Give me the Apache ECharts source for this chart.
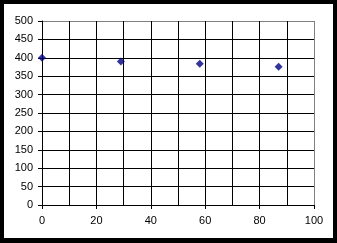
<!DOCTYPE html>
<html>
<head>
<meta charset="utf-8">
<script src="https://cdn.jsdelivr.net/npm/echarts@6/dist/echarts.min.js"></script>
<style>
html,body{margin:0;padding:0;}
#frame{position:absolute;left:0;top:0;width:337px;height:243px;background:#000;}
#chart{position:absolute;left:4px;top:4px;width:329px;height:234px;background:#fff;}
</style>
</head>
<body>
<div id="frame"><div id="chart"></div></div>
<script>
var xValues = [0, 29, 58, 87];
var yValues = [400, 390, 384, 376];
var xTicks = [0, 20, 40, 60, 80, 100];
var yTicks = [0, 50, 100, 150, 200, 250, 300, 350, 400, 450, 500];

var points = xValues.map(function (x, i) { return [x, yValues[i]]; });

var chart = echarts.init(document.getElementById('chart'), null, {renderer: 'canvas'});
var font = {fontFamily: 'Liberation Sans, Arial, sans-serif', fontSize: 11, color: '#000'};
chart.setOption({
  animation: false,
  backgroundColor: '#fff',
  grid: {left: 38, right: 19, top: 17, bottom: 33, containLabel: false},
  xAxis: {
    type: 'value',
    min: xTicks[0], max: xTicks[xTicks.length - 1], interval: 20,
    axisLine: {show: true, onZero: false, lineStyle: {color: '#000', width: 1}},
    axisTick: {show: true, inside: false, length: 4, lineStyle: {color: '#000'}},
    axisLabel: Object.assign({margin: 10}, font),
    splitLine: {show: true, lineStyle: {color: ['#000', '#000', '#000', '#000', '#000', '#808080'], width: 1}},
    minorTick: {show: false, splitNumber: 2},
    minorSplitLine: {show: true, lineStyle: {color: '#000', width: 1}}
  },
  yAxis: {
    type: 'value',
    min: yTicks[0], max: yTicks[yTicks.length - 1], interval: 50,
    axisLine: {show: true, onZero: false, lineStyle: {color: '#000', width: 1}},
    axisTick: {show: true, inside: false, length: 4, lineStyle: {color: '#000'}},
    axisLabel: Object.assign({margin: 9}, font),
    splitLine: {show: true, lineStyle: {color: ['#000','#000','#000','#000','#000','#000','#000','#000','#000','#000','#808080'], width: 1}}
  },
  series: [{
    type: 'scatter',
    data: points,
    symbol: 'diamond',
    symbolSize: 8,
    itemStyle: {color: '#000080'}
  }]
});
</script>
</body>
</html>
